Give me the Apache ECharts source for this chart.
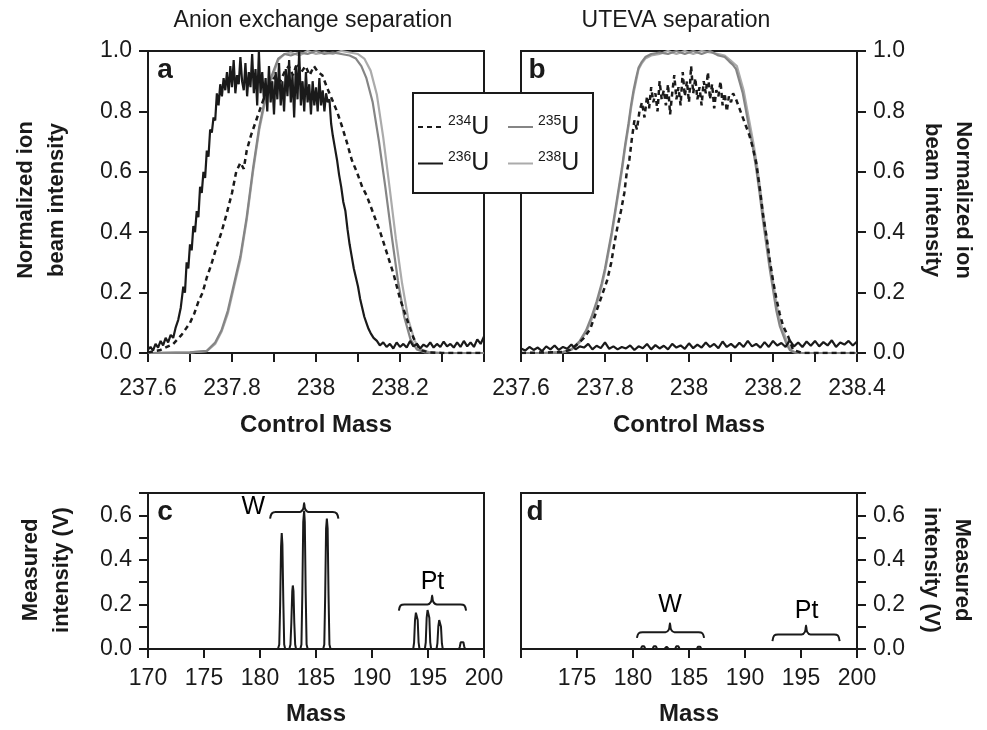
<!DOCTYPE html>
<html>
<head>
<meta charset="utf-8">
<script src="https://cdn.jsdelivr.net/npm/echarts@6/dist/echarts.min.js"></script>
<style>html,body{margin:0;padding:0;background:#fff}#chart{width:987px;height:730px}</style>
</head>
<body>
<div id="chart"></div>
<script>
// ---- data ----
// panel a (anion exchange), [control mass, normalized intensity]
const a238 = [[237.6,0],[237.7,0.002],[237.74,0.006],[237.76,0.03],[237.775,0.07],[237.79,0.13],[237.805,0.22],[237.82,0.31],[237.835,0.44],[237.85,0.6],[237.865,0.74],[237.88,0.84],[237.895,0.91],[237.91,0.97],[237.925,0.99],[237.94,0.995],[237.96,0.985],[237.98,1.0],[238.0,0.99],[238.02,0.995],[238.04,0.99],[238.06,1.0],[238.08,0.995],[238.1,0.99],[238.115,0.975],[238.13,0.935],[238.145,0.855],[238.16,0.715],[238.175,0.55],[238.19,0.38],[238.205,0.23],[238.22,0.11],[238.235,0.04],[238.25,0.012],[238.27,0.002],[238.3,0],[238.4,0]];
const a235 = [[237.6,0],[237.7,0.002],[237.74,0.007],[237.76,0.035],[237.775,0.075],[237.79,0.14],[237.805,0.23],[237.82,0.32],[237.835,0.45],[237.85,0.61],[237.865,0.75],[237.88,0.85],[237.895,0.92],[237.91,0.975],[237.925,0.99],[237.94,0.985],[237.96,0.995],[237.98,0.99],[238.0,1.0],[238.02,0.99],[238.04,0.995],[238.06,0.99],[238.08,0.985],[238.095,0.975],[238.108,0.95],[238.12,0.91],[238.135,0.83],[238.15,0.7],[238.165,0.55],[238.18,0.39],[238.195,0.24],[238.21,0.12],[238.225,0.045],[238.24,0.012],[238.26,0.002],[238.3,0],[238.4,0]];
const a234 = [[237.6,0.002],[237.615,0.006],[237.63,0.01],[237.645,0.02],[237.66,0.03],[237.67,0.045],[237.68,0.06],[237.69,0.08],[237.7,0.1],[237.71,0.13],[237.72,0.17],[237.73,0.2],[237.74,0.25],[237.75,0.29],[237.763,0.35],[237.775,0.4],[237.787,0.46],[237.8,0.53],[237.81,0.6],[237.82,0.63],[237.828,0.61],[237.835,0.67],[237.845,0.72],[237.855,0.76],[237.865,0.8],[237.875,0.84],[237.885,0.88],[237.895,0.9],[237.905,0.92],[237.915,0.9],[237.925,0.93],[237.935,0.95],[237.945,0.92],[237.955,0.96],[237.965,0.93],[237.975,0.95],[237.985,0.92],[237.995,0.95],[238.005,0.93],[238.015,0.92],[238.026,0.88],[238.038,0.84],[238.05,0.8],[238.062,0.75],[238.073,0.7],[238.085,0.64],[238.097,0.6],[238.11,0.55],[238.121,0.52],[238.137,0.46],[238.153,0.4],[238.169,0.33],[238.185,0.26],[238.2,0.18],[238.217,0.11],[238.232,0.05],[238.248,0.01],[238.27,0.002],[238.3,0],[238.4,0]];
const a236 = [[237.6,0.012],[237.606,0.02],[237.612,0.008],[237.618,0.03],[237.624,0.018],[237.63,0.04],[237.636,0.025],[237.642,0.05],[237.648,0.035],[237.654,0.06],[237.66,0.05],[237.666,0.085],[237.672,0.11],[237.678,0.15],[237.684,0.22],[237.688,0.2],[237.692,0.3],[237.696,0.28],[237.7,0.36],[237.704,0.34],[237.708,0.42],[237.712,0.4],[237.716,0.47],[237.72,0.45],[237.724,0.55],[237.728,0.53],[237.732,0.6],[237.736,0.58],[237.74,0.67],[237.744,0.65],[237.748,0.74],[237.752,0.73],[237.756,0.78],[237.76,0.77],[237.764,0.86],[237.768,0.82],[237.772,0.89],[237.776,0.85],[237.78,0.91],[237.784,0.87],[237.788,0.93],[237.792,0.86],[237.796,0.95],[237.8,0.88],[237.804,0.97],[237.808,0.86],[237.812,0.92],[237.816,0.89],[237.82,0.98],[237.824,0.9],[237.828,0.87],[237.832,0.96],[237.836,0.85],[237.84,0.93],[237.844,0.88],[237.848,0.99],[237.852,0.86],[237.856,0.94],[237.86,0.82],[237.864,1.0],[237.868,0.86],[237.872,0.93],[237.876,0.84],[237.88,0.91],[237.884,0.8],[237.888,0.95],[237.892,0.83],[237.896,0.9],[237.9,0.79],[237.904,0.93],[237.908,0.84],[237.912,0.96],[237.916,0.82],[237.92,0.9],[237.924,0.8],[237.928,0.94],[237.932,0.85],[237.936,0.97],[237.94,0.83],[237.944,0.92],[237.948,0.78],[237.952,0.95],[237.956,0.84],[237.96,1.0],[237.964,0.82],[237.968,0.9],[237.972,0.8],[237.976,0.93],[237.98,0.83],[237.984,0.89],[237.988,0.79],[237.992,0.9],[237.996,0.82],[238.0,0.88],[238.004,0.8],[238.008,0.91],[238.012,0.82],[238.016,0.87],[238.02,0.8],[238.024,0.86],[238.028,0.83],[238.032,0.84],[238.036,0.76],[238.04,0.72],[238.045,0.68],[238.05,0.64],[238.055,0.59],[238.06,0.55],[238.065,0.5],[238.07,0.47],[238.075,0.41],[238.08,0.36],[238.085,0.32],[238.09,0.28],[238.095,0.25],[238.1,0.22],[238.105,0.18],[238.11,0.15],[238.115,0.12],[238.12,0.1],[238.125,0.08],[238.13,0.066],[238.137,0.05],[238.145,0.04],[238.152,0.025],[238.16,0.035],[238.168,0.02],[238.176,0.03],[238.184,0.015],[238.192,0.035],[238.2,0.02],[238.208,0.03],[238.216,0.018],[238.224,0.04],[238.232,0.022],[238.24,0.03],[238.248,0.015],[238.256,0.028],[238.264,0.02],[238.272,0.035],[238.28,0.018],[238.288,0.03],[238.296,0.02],[238.304,0.038],[238.312,0.022],[238.32,0.03],[238.328,0.018],[238.336,0.035],[238.344,0.02],[238.352,0.04],[238.36,0.022],[238.368,0.035],[238.376,0.02],[238.384,0.045],[238.392,0.03],[238.4,0.055]];

// panel b (UTEVA)
const b238 = [[237.6,0],[237.65,0],[237.7,0.003],[237.72,0.01],[237.74,0.035],[237.755,0.07],[237.768,0.11],[237.78,0.16],[237.792,0.22],[237.8,0.27],[237.808,0.33],[237.816,0.39],[237.824,0.46],[237.832,0.53],[237.84,0.6],[237.848,0.68],[237.856,0.75],[237.862,0.81],[237.868,0.86],[237.874,0.9],[237.88,0.94],[237.888,0.96],[237.896,0.975],[237.91,0.985],[237.93,0.99],[237.95,1.0],[237.97,0.99],[237.99,1.0],[238.01,0.99],[238.03,1.0],[238.05,0.995],[238.07,0.99],[238.085,0.985],[238.098,0.97],[238.106,0.96],[238.114,0.95],[238.122,0.91],[238.13,0.87],[238.138,0.81],[238.146,0.75],[238.154,0.69],[238.162,0.62],[238.17,0.54],[238.178,0.45],[238.186,0.37],[238.194,0.29],[238.202,0.22],[238.21,0.15],[238.218,0.1],[238.226,0.066],[238.234,0.035],[238.242,0.012],[238.252,0.003],[238.27,0],[238.4,0]];
const b235 = [[237.6,0],[237.65,0],[237.7,0.003],[237.72,0.012],[237.74,0.04],[237.755,0.075],[237.768,0.12],[237.78,0.17],[237.792,0.23],[237.8,0.28],[237.808,0.34],[237.816,0.4],[237.824,0.47],[237.832,0.54],[237.84,0.61],[237.848,0.69],[237.856,0.76],[237.862,0.82],[237.868,0.87],[237.874,0.91],[237.88,0.945],[237.888,0.965],[237.896,0.98],[237.91,0.99],[237.93,0.995],[237.95,0.99],[237.97,1.0],[237.99,0.99],[238.01,1.0],[238.03,0.99],[238.05,1.0],[238.07,0.985],[238.085,0.98],[238.096,0.965],[238.104,0.955],[238.112,0.94],[238.12,0.9],[238.128,0.86],[238.136,0.8],[238.144,0.74],[238.152,0.68],[238.16,0.61],[238.168,0.53],[238.176,0.44],[238.184,0.36],[238.192,0.28],[238.2,0.21],[238.208,0.14],[238.216,0.09],[238.224,0.06],[238.232,0.03],[238.24,0.01],[238.25,0.002],[238.27,0],[238.4,0]];
const b234 = [[237.6,0],[237.7,0.003],[237.72,0.012],[237.735,0.03],[237.75,0.05],[237.765,0.08],[237.775,0.12],[237.785,0.16],[237.795,0.2],[237.805,0.24],[237.815,0.3],[237.822,0.36],[237.83,0.42],[237.838,0.47],[237.846,0.53],[237.852,0.6],[237.858,0.64],[237.864,0.71],[237.87,0.77],[237.876,0.74],[237.882,0.8],[237.888,0.83],[237.894,0.78],[237.9,0.85],[237.905,0.81],[237.91,0.88],[237.915,0.83],[237.92,0.86],[237.925,0.8],[237.93,0.9],[237.935,0.84],[237.94,0.87],[237.945,0.82],[237.95,0.89],[237.955,0.79],[237.96,0.86],[237.965,0.92],[237.97,0.84],[237.975,0.88],[237.98,0.82],[237.985,0.93],[237.99,0.85],[237.995,0.9],[238.0,0.83],[238.005,0.95],[238.01,0.86],[238.015,0.91],[238.02,0.84],[238.025,0.88],[238.03,0.82],[238.035,0.9],[238.04,0.86],[238.045,0.93],[238.05,0.84],[238.055,0.89],[238.06,0.81],[238.065,0.87],[238.07,0.85],[238.075,0.9],[238.08,0.82],[238.085,0.86],[238.09,0.8],[238.095,0.85],[238.1,0.83],[238.105,0.86],[238.112,0.84],[238.12,0.81],[238.128,0.78],[238.136,0.75],[238.144,0.72],[238.152,0.68],[238.16,0.63],[238.168,0.55],[238.176,0.46],[238.184,0.39],[238.192,0.31],[238.2,0.24],[238.208,0.18],[238.216,0.13],[238.224,0.09],[238.236,0.055],[238.248,0.01],[238.27,0],[238.4,0]];
const b236 = [[237.6,0.015],[237.61,0.008],[237.62,0.02],[237.63,0.01],[237.64,0.018],[237.65,0.006],[237.66,0.022],[237.67,0.012],[237.68,0.025],[237.69,0.01],[237.7,0.02],[237.71,0.014],[237.72,0.028],[237.73,0.012],[237.74,0.022],[237.75,0.018],[237.76,0.03],[237.77,0.012],[237.78,0.024],[237.79,0.016],[237.8,0.035],[237.81,0.014],[237.82,0.022],[237.83,0.012],[237.84,0.02],[237.85,0.015],[237.86,0.025],[237.87,0.01],[237.88,0.022],[237.89,0.016],[237.9,0.03],[237.91,0.012],[237.92,0.026],[237.93,0.015],[237.94,0.024],[237.95,0.012],[237.96,0.03],[237.97,0.018],[237.98,0.025],[237.99,0.014],[238.0,0.032],[238.01,0.016],[238.02,0.028],[238.03,0.018],[238.04,0.035],[238.05,0.02],[238.06,0.03],[238.07,0.016],[238.08,0.038],[238.09,0.02],[238.1,0.03],[238.11,0.018],[238.12,0.034],[238.13,0.02],[238.14,0.04],[238.15,0.022],[238.16,0.03],[238.17,0.018],[238.18,0.036],[238.19,0.02],[238.2,0.04],[238.21,0.025],[238.22,0.033],[238.23,0.02],[238.24,0.042],[238.25,0.022],[238.26,0.035],[238.27,0.02],[238.28,0.038],[238.29,0.024],[238.3,0.04],[238.31,0.022],[238.32,0.036],[238.33,0.025],[238.34,0.042],[238.35,0.02],[238.36,0.035],[238.37,0.028],[238.38,0.04],[238.39,0.025],[238.4,0.038]];

// panel c / d, [mass, measured intensity V]
const cSpectrum = [[170,0],[181.6,0],[181.72,0.02],[181.8,0.2],[181.88,0.46],[181.94,0.52],[182.0,0.47],[182.08,0.22],[182.16,0.02],[182.25,0],[182.62,0],[182.72,0.02],[182.8,0.12],[182.88,0.26],[182.93,0.285],[182.99,0.26],[183.06,0.12],[183.14,0.02],[183.22,0],[183.6,0],[183.7,0.02],[183.78,0.25],[183.86,0.57],[183.94,0.62],[184.0,0.57],[184.08,0.25],[184.16,0.02],[184.26,0],[185.64,0],[185.74,0.02],[185.82,0.24],[185.9,0.54],[185.97,0.585],[186.04,0.54],[186.12,0.24],[186.2,0.02],[186.3,0],[192.0,0],[192.08,0.004],[192.16,0],[193.68,0],[193.76,0.03],[193.84,0.13],[193.92,0.163],[194.0,0.165],[194.08,0.13],[194.16,0.03],[194.24,0],[194.72,0],[194.8,0.03],[194.88,0.14],[194.96,0.175],[195.04,0.175],[195.12,0.14],[195.2,0.03],[195.28,0],[195.76,0],[195.84,0.025],[195.92,0.1],[196.0,0.13],[196.08,0.13],[196.16,0.1],[196.24,0.025],[196.32,0],[197.76,0],[197.84,0.01],[197.92,0.03],[198.0,0.035],[198.08,0.035],[198.16,0.03],[198.24,0.01],[198.32,0],[200,0]];
const dSpectrum = [[170,0],[180.7,0],[180.8,0.012],[180.9,0.018],[181.0,0.012],[181.1,0],[181.75,0],[181.85,0.012],[181.95,0.017],[182.05,0.012],[182.15,0],[182.8,0],[182.9,0.007],[183.0,0.01],[183.1,0.007],[183.2,0],[183.76,0],[183.86,0.012],[183.96,0.017],[184.06,0.012],[184.16,0],[185.7,0],[185.8,0.01],[185.9,0.015],[186.0,0.01],[186.1,0],[200,0]];

// element braces and their labels
const cBraceW = [[180.9,0.585],[181.05,0.608],[181.4,0.615],[183.55,0.615],[183.85,0.628],[183.94,0.655],[184.03,0.628],[184.33,0.615],[186.5,0.615],[186.85,0.608],[187.0,0.585]];
const cBracePt = [[192.4,0.172],[192.55,0.195],[192.9,0.2],[194.95,0.2],[195.27,0.212],[195.37,0.24],[195.47,0.212],[195.8,0.2],[197.9,0.2],[198.25,0.195],[198.4,0.172]];
const dBraceW = [[180.35,0.05],[180.5,0.07],[180.85,0.075],[182.9,0.075],[183.2,0.087],[183.3,0.115],[183.4,0.087],[183.7,0.075],[185.85,0.075],[186.2,0.07],[186.35,0.05]];
const dBracePt = [[192.45,0.035],[192.6,0.06],[192.95,0.065],[195.05,0.065],[195.35,0.077],[195.45,0.105],[195.55,0.077],[195.85,0.065],[197.95,0.065],[198.3,0.06],[198.45,0.035]];
const cLabels = [{ name: 'W', value: [179.4, 0.637] }, { name: 'Pt', value: [195.4, 0.3] }];
const dLabels = [{ name: 'W', value: [183.3, 0.195] }, { name: 'Pt', value: [195.5, 0.172] }];

const isotopes = ['234U', '235U', '236U', '238U'];

const FONT = '"Liberation Sans", Arial, Helvetica, sans-serif';
const INK = '#1a1a1a';
const colors = { '234U': INK, '235U': '#858585', '236U': INK, '238U': '#ababab' };

const chart = echarts.init(document.getElementById('chart'));

const axisCommon = {
  axisLine: { onZero: false, lineStyle: { color: INK, width: 2 } },
  axisTick: { inside: false, length: 9, lineStyle: { color: INK, width: 2 } },
  splitLine: { show: false },
  axisLabel: { color: INK, fontFamily: FONT, fontSize: 23 }
};

function xAxis(gridIndex, min, max, interval, formatter, margin) {
  return Object.assign({}, axisCommon, {
    type: 'value', gridIndex, min, max, interval, position: 'bottom',
    axisLabel: Object.assign({}, axisCommon.axisLabel, { formatter, margin })
  });
}
function yAxis(gridIndex, max, interval, formatter, position) {
  return Object.assign({}, axisCommon, {
    type: 'value', gridIndex, min: 0, max, interval, position,
    axisLabel: Object.assign({}, axisCommon.axisLabel, { formatter, margin: 16 })
  });
}

const massFmt = v => {
  const r = Math.round(v * 10);
  return r % 2 !== 0 ? '' : String(r / 10);
};
const massFmtA = v => (Math.round(v * 10) === 2384 ? '' : massFmt(v));
const frac1 = v => v.toFixed(1);
const fracEven = v => (Math.round(v * 10) % 2 ? '' : v.toFixed(1));

function line(name, data, xi, dashed) {
  return {
    name, type: 'line', xAxisIndex: xi, yAxisIndex: xi, data,
    symbol: 'none', animation: false, sampling: null,
    lineStyle: { color: colors[name], width: dashed ? 2.5 : 2.2, type: dashed ? [5, 4] : 'solid' },
    itemStyle: { color: colors[name] }
  };
}
function spectrum(data, xi) {
  return {
    type: 'line', xAxisIndex: xi, yAxisIndex: xi, data, symbol: 'none',
    lineStyle: { color: INK, width: 2 }, animation: false
  };
}
function brace(data, xi) {
  return {
    type: 'line', xAxisIndex: xi, yAxisIndex: xi, data, symbol: 'none', smooth: 0.35,
    lineStyle: { color: INK, width: 2 }, animation: false, silent: true
  };
}
function labels(data, xi) {
  return {
    type: 'scatter', xAxisIndex: xi, yAxisIndex: xi, data, symbolSize: 0, silent: true,
    itemStyle: { opacity: 1 },
    label: { show: true, position: 'inside', formatter: '{b}', color: '#000', opacity: 1, fontFamily: FONT, fontSize: 25 },
    animation: false
  };
}

const legendRich = {
  s: { fontSize: 14, fontFamily: FONT, color: INK, verticalAlign: 'top', lineHeight: 14 },
  u: { fontSize: 25, fontFamily: FONT, color: INK, lineHeight: 26 }
};
function legend(names, left) {
  return {
    data: names, orient: 'vertical', left, top: 114, itemGap: 11, padding: 0,
    itemWidth: 25, itemHeight: 14, z: 20, selectedMode: false,
    itemStyle: { opacity: 0 },
    formatter: n => '{s|' + n.slice(0, 3) + '}{u|U}',
    textStyle: { rich: legendRich, padding: [0, 0, 0, 0] }
  };
}

function text(t, x, y, size, bold, rotation) {
  return {
    type: 'text', x, y, rotation: rotation || 0, z: 30,
    style: {
      text: t, fill: INK, font: (bold ? 'bold ' : '') + size + 'px ' + FONT,
      align: 'center', verticalAlign: 'middle', lineHeight: 31
    }
  };
}

const option = {
  backgroundColor: '#fff',
  animation: false,
  grid: [
    { left: 148, top: 51, width: 336, height: 302 },
    { left: 521, top: 51, width: 336, height: 302 },
    { left: 148, top: 493, width: 336, height: 156 },
    { left: 521, top: 493, width: 336, height: 156 }
  ].map(g => Object.assign(g, { show: true, borderColor: INK, borderWidth: 2, backgroundColor: 'transparent' })),
  xAxis: [
    xAxis(0, 237.6, 238.4, 0.1, massFmtA, 24),
    xAxis(1, 237.6, 238.4, 0.1, massFmt, 24),
    xAxis(2, 170, 200, 5, v => String(v), 18),
    xAxis(3, 170, 200, 5, v => (v === 170 ? '' : String(v)), 18)
  ],
  yAxis: [
    yAxis(0, 1, 0.2, frac1, 'left'),
    yAxis(1, 1, 0.2, frac1, 'right'),
    yAxis(2, 0.7, 0.1, fracEven, 'left'),
    yAxis(3, 0.7, 0.1, fracEven, 'right')
  ],
  legend: [legend(['234U', '236U'], 417), legend(['235U', '238U'], 507)],
  series: [
    line('238U', a238, 0), line('235U', a235, 0), line('234U', a234, 0, true), line('236U', a236, 0),
    line('238U', b238, 1), line('235U', b235, 1), line('234U', b234, 1, true), line('236U', b236, 1),
    spectrum(cSpectrum, 2), brace(cBraceW, 2), brace(cBracePt, 2), labels(cLabels, 2),
    spectrum(dSpectrum, 3), brace(dBraceW, 3), brace(dBracePt, 3), labels(dLabels, 3)
  ],
  graphic: [
    { type: 'rect', shape: { x: 413, y: 93, width: 180, height: 100 }, z: 10,
      style: { fill: '#fff', stroke: INK, lineWidth: 2 } },
    text('Anion exchange separation', 313, 21, 23, false),
    text('UTEVA separation', 676, 21, 23, false),
    text('a', 165, 70, 28, true),
    text('b', 537, 70, 28, true),
    text('c', 165, 512, 28, true),
    text('d', 535, 512, 28, true),
    text('Control Mass', 316, 425, 24, true),
    text('Control Mass', 689, 425, 24, true),
    text('Mass', 316, 714, 24, true),
    text('Mass', 689, 714, 24, true),
    text('Normalized ion\nbeam intensity', 41, 200, 22, true, Math.PI / 2),
    text('Normalized ion\nbeam intensity', 948, 200, 22, true, -Math.PI / 2),
    text('Measured\nintensity (V)', 46, 570, 22, true, Math.PI / 2),
    text('Measured\nintensity (V)', 947, 570, 22, true, -Math.PI / 2)
  ]
};

chart.setOption(option);
</script>
</body>
</html>
